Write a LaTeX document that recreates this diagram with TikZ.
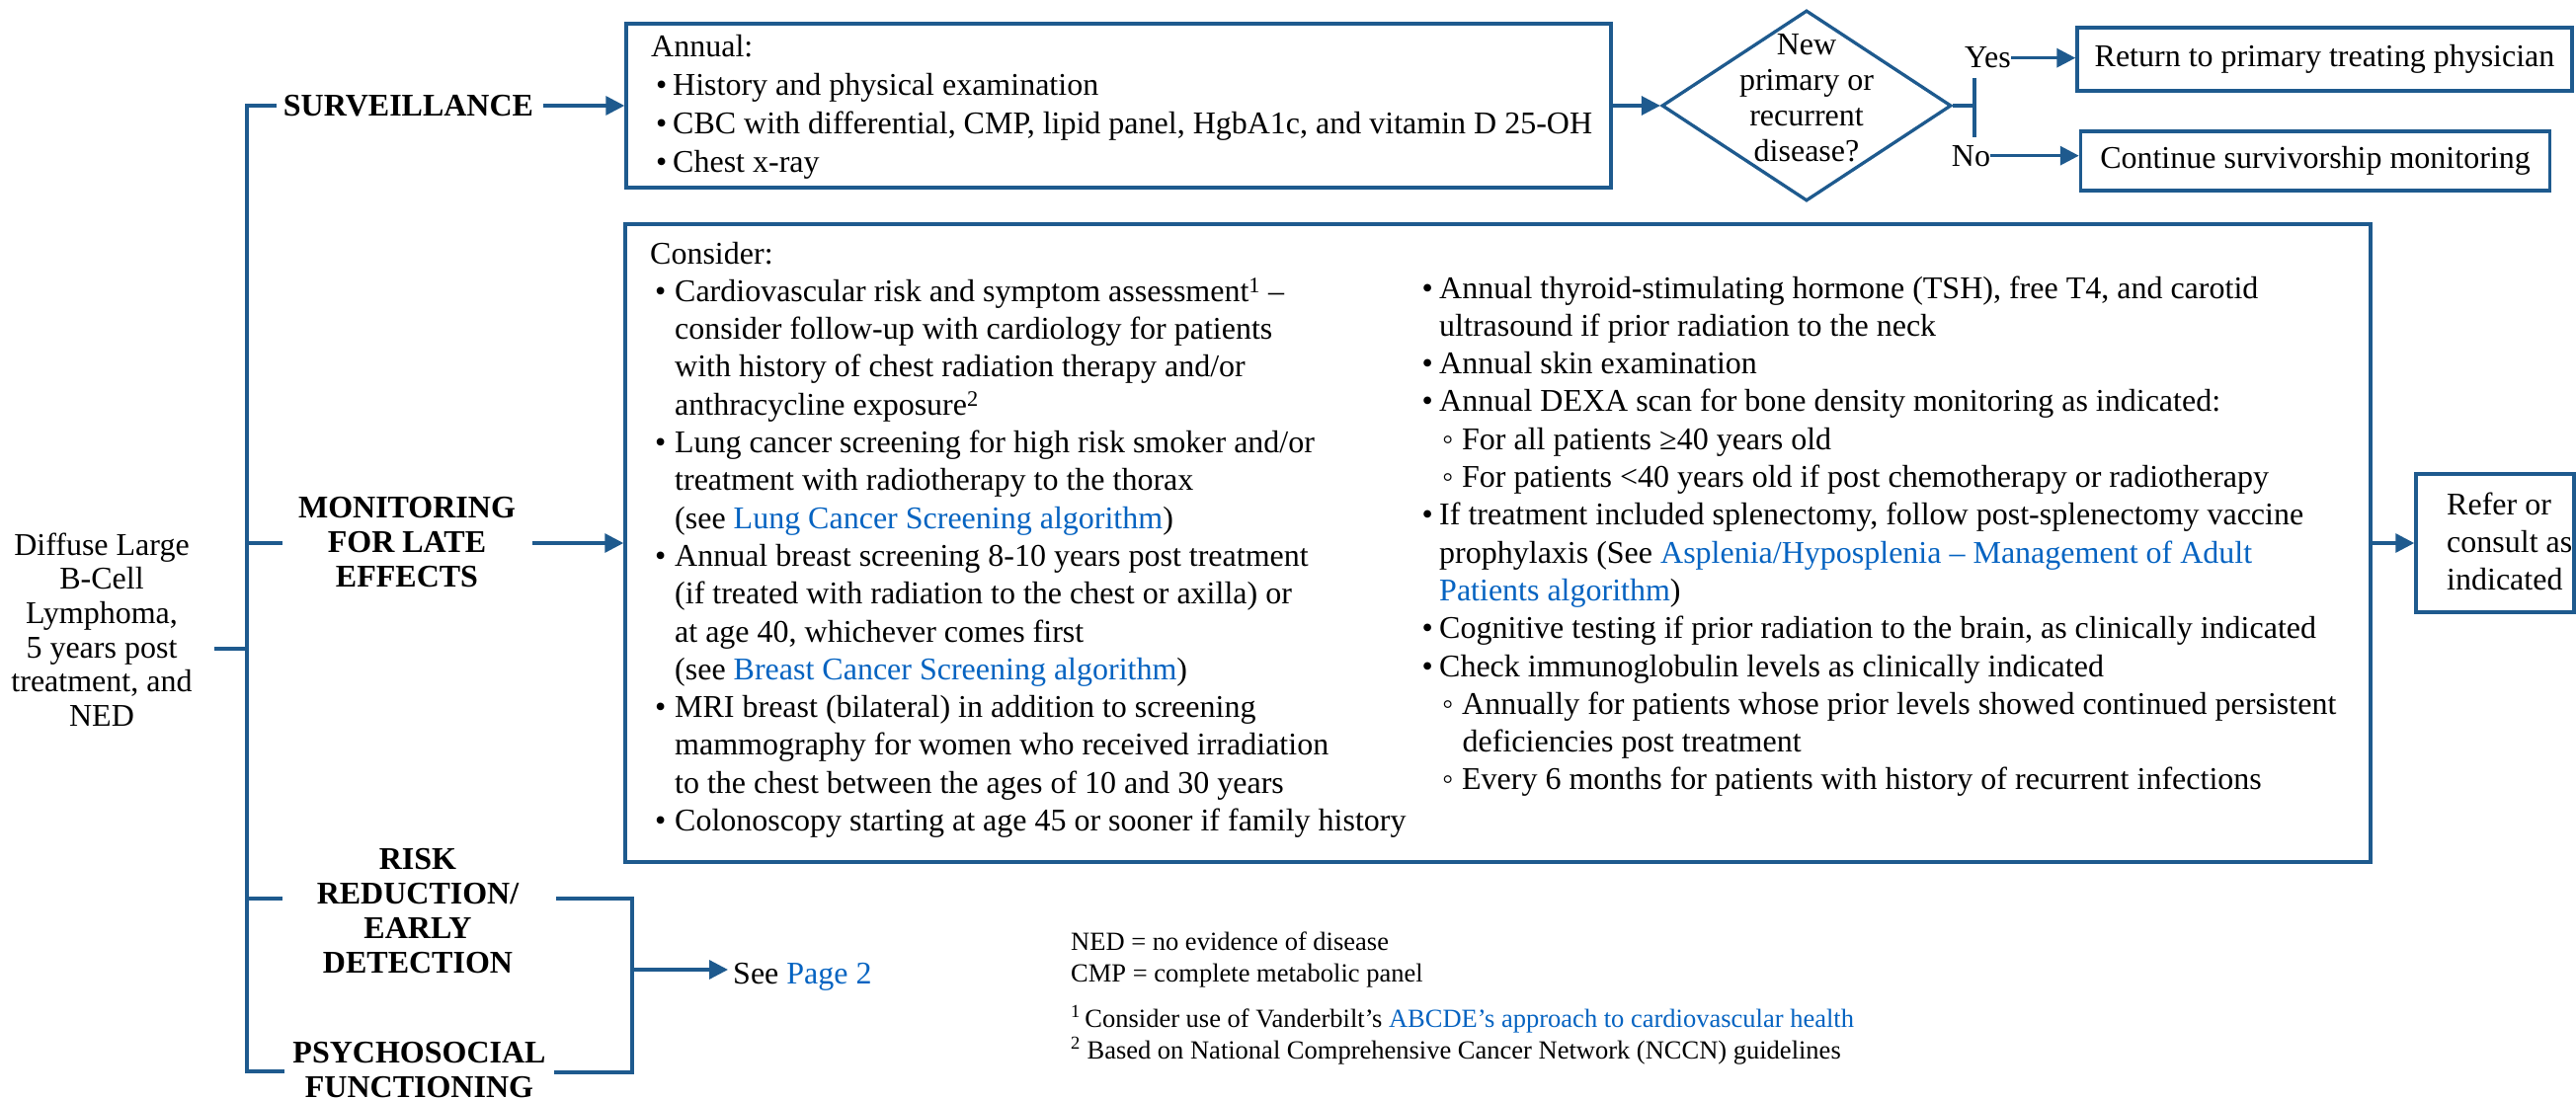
\documentclass[tikz,border=0pt]{standalone}
\usepackage{fontspec}
\setmainfont{Liberation Serif}
\usetikzlibrary{arrows.meta,shapes.geometric}
\definecolor{lineblue}{HTML}{1E5A8E}
\definecolor{linkblue}{HTML}{0563C1}
\newcommand\lnk[1]{\textcolor{linkblue}{#1}}
\newcommand\ctab[1]{\begin{tabular}[t]{@{}c@{}}#1\end{tabular}}
\newcommand\ltab[1]{\begin{tabular}[t]{@{}l@{}}#1\end{tabular}}
\newcommand\colv[2]{\vtop{\hsize=#1\parindent=0pt\parskip=0pt\relax #2}}
\newlength\bulO \newlength\bulT \newlength\subO \newlength\subT \newlength\subC
\newcommand\bitm{\par\noindent\hspace*{\bulO}\makebox[\dimexpr\bulT-\bulO\relax][l]{\textbullet}}
\newcommand\bcont{\par\noindent\hspace*{\bulT}}
\newcommand\sitm{\par\noindent\hspace*{\subO}\makebox[\dimexpr\subT-\subO\relax][l]{◦}}
\newcommand\scont{\par\noindent\hspace*{\subC}}
\newcommand\ptxt{\par\noindent}
\begin{document}
\begin{tikzpicture}[x=1pt,y=-1pt,
  conn/.style={draw=lineblue,line width=3.3pt},
  arr/.style={conn,-{Triangle[length=19pt,width=19pt]}},
  box/.style={draw=lineblue,line width=3.5pt,rectangle,inner sep=0pt},
  body/.style={inner sep=0pt,font=\fontsize{32}{38.3}\selectfont},
  lab/.style={inner sep=0pt,font=\fontsize{32}{35}\selectfont\bfseries}]
\useasboundingbox (0,0) rectangle (2608,1113);

% root and category labels
\node[body,font=\fontsize{32}{34.7}\selectfont,anchor=base] (root) at (103,562)
  {\ctab{Diffuse Large\\B-Cell\\Lymphoma,\\5 years post\\treatment, and\\NED}};
\node[lab,anchor=base] (survlab) at (413.5,118) {SURVEILLANCE};
\node[lab,anchor=base] (monlab) at (412,524) {\ctab{MONITORING\\FOR LATE\\EFFECTS}};
\node[lab,anchor=base] (risklab) at (423,880) {\ctab{RISK\\REDUCTION/\\EARLY\\DETECTION}};
\node[lab,anchor=base] (psylab) at (424.5,1076) {\ctab{PSYCHOSOCIAL\\FUNCTIONING}};

% surveillance box
\node[box,minimum width=997pt,minimum height=166pt] (survbox) at (1132.5,107) {};
\node[body,font=\fontsize{32}{39}\selectfont,anchor=base west] (survtxt) at (659,58)
  {\colv{980pt}{\setlength\bulO{5pt}\setlength\bulT{22pt}%
  \ptxt Annual:
  \bitm History and physical examination
  \bitm CBC with differential, CMP, lipid panel, HgbA1c, and vitamin D 25-OH
  \bitm Chest x-ray}};

% decision
\node[draw=lineblue,line width=3.3pt,diamond,minimum width=293pt,minimum height=193pt,inner sep=0pt] (dia) at (1829,107) {};
\node[body,font=\fontsize{32}{36}\selectfont,anchor=base] (diatxt) at (1829,56)
  {\ctab{New\\primary or\\recurrent\\disease?}};
\node[body,anchor=base] (yes) at (2012.5,69) {Yes};
\node[body,anchor=base] (no) at (1995.5,168) {No};
\node[box,minimum width=501pt,minimum height=64pt,font=\fontsize{32}{38.3}\selectfont] (ret) at (2353.5,60) {Return to primary treating physician};
\node[box,minimum width=475pt,minimum height=60pt,font=\fontsize{32}{38.3}\selectfont] (cont) at (2344,163) {Continue survivorship monitoring};

% monitoring box
\node[box,minimum width=1767pt,minimum height=646pt] (monbox) at (1516.5,550) {};
\node[body,anchor=base west] (lcol) at (658,267)
  {\colv{900pt}{\setlength\bulO{5pt}\setlength\bulT{25pt}%
  \ptxt Consider:
  \bitm Cardiovascular risk and symptom assessment\textsuperscript{1} –
  \bcont consider follow-up with cardiology for patients
  \bcont with history of chest radiation therapy and/or
  \bcont anthracycline exposure\textsuperscript{2}
  \bitm Lung cancer screening for high risk smoker and/or
  \bcont treatment with radiotherapy to the thorax
  \bcont (see \lnk{Lung Cancer Screening algorithm})
  \bitm Annual breast screening 8-10 years post treatment
  \bcont (if treated with radiation to the chest or axilla) or
  \bcont at age 40, whichever comes first
  \bcont (see \lnk{Breast Cancer Screening algorithm})
  \bitm MRI breast (bilateral) in addition to screening
  \bcont mammography for women who received irradiation
  \bcont to the chest between the ages of 10 and 30 years
  \bitm Colonoscopy starting at age 45 or sooner if family history}};
\node[body,anchor=base west] (rcol) at (1439.5,302)
  {\colv{1000pt}{\setlength\bulO{0pt}\setlength\bulT{17.5pt}\setlength\subO{20.5pt}\setlength\subT{40.5pt}\setlength\subC{41pt}%
  \bitm Annual thyroid-stimulating hormone (TSH), free T4, and carotid
  \bcont ultrasound if prior radiation to the neck
  \bitm Annual skin examination
  \bitm Annual DEXA scan for bone density monitoring as indicated:
  \sitm For all patients ≥40 years old
  \sitm For patients <40 years old if post chemotherapy or radiotherapy
  \bitm If treatment included splenectomy, follow post-splenectomy vaccine
  \bcont prophylaxis (See \lnk{Asplenia/Hyposplenia – Management of Adult}
  \bcont \lnk{Patients algorithm})
  \bitm Cognitive testing if prior radiation to the brain, as clinically indicated
  \bitm Check immunoglobulin levels as clinically indicated
  \sitm Annually for patients whose prior levels showed continued persistent
  \scont deficiencies post treatment
  \sitm Every 6 months for patients with history of recurrent infections}};

% refer box
\node[box,minimum width=160pt,minimum height=140pt] (refer) at (2526,550) {};
\node[body,anchor=base west] (refertxt) at (2477,521) {\ltab{Refer or\\consult as\\indicated}};

% see page 2
\node[body,anchor=base west,inner xsep=5pt] (see) at (737,996) {See \lnk{Page 2}};

% notes
\node[inner sep=0pt,font=\fontsize{26.5}{32}\selectfont,anchor=base west] (notes) at (1084,962)
  {\ltab{NED = no evidence of disease\\CMP = complete metabolic panel\\[14pt]
  \textsuperscript{1}\,Consider use of Vanderbilt’s \lnk{ABCDE’s approach to cardiovascular health}\\
  \textsuperscript{2} Based on National Comprehensive Cancer Network (NCCN) guidelines}};

% connector coordinates
\coordinate (tTop) at (250,107);
\coordinate (tBot) at (250,1085);
\coordinate (survIn) at (280,107);
\coordinate (survOut) at (550,107);
\coordinate (psyIn) at (288,1085);
\coordinate (rootOut) at (217,657);
\coordinate (rootJ) at (250,657);
\coordinate (monJ) at (250,550);
\coordinate (monIn) at (286,550);
\coordinate (monOut) at (539,550);
\coordinate (riskJ) at (250,910);
\coordinate (riskIn) at (286,910);
\coordinate (riskOut) at (563,910);
\coordinate (brTop) at (640,910);
\coordinate (brBot) at (640,1086);
\coordinate (psyOut) at (561,1086);
\coordinate (brMid) at (640,982);
\coordinate (split) at (1999,107);
\coordinate (barTop) at (1999,79);
\coordinate (barBot) at (1999,139);

% connectors
\draw[conn] (survIn) -- (tTop) -- (tBot) -- (psyIn);
\draw[conn] (rootOut) -- (rootJ);
\draw[conn] (monJ) -- (monIn);
\draw[conn] (riskJ) -- (riskIn);
\draw[conn] (riskOut) -- (brTop) -- (brBot) -- (psyOut);
\draw[arr] (survOut) -- (survbox.west);
\draw[arr] (monOut) -- (monbox.west);
\draw[arr] (brMid) -- (brMid -| see.west);
\draw[arr] (survbox.east) -- (dia.west);
\draw[conn] (dia.east) -- (split);
\draw[conn] (barTop) -- (barBot);
\draw[arr] (yes.east) -- (yes.east -| ret.west);
\draw[arr] (no.east) -- (no.east -| cont.west);
\draw[arr] (monbox.east) -- (refer.west);
\end{tikzpicture}
\end{document}
